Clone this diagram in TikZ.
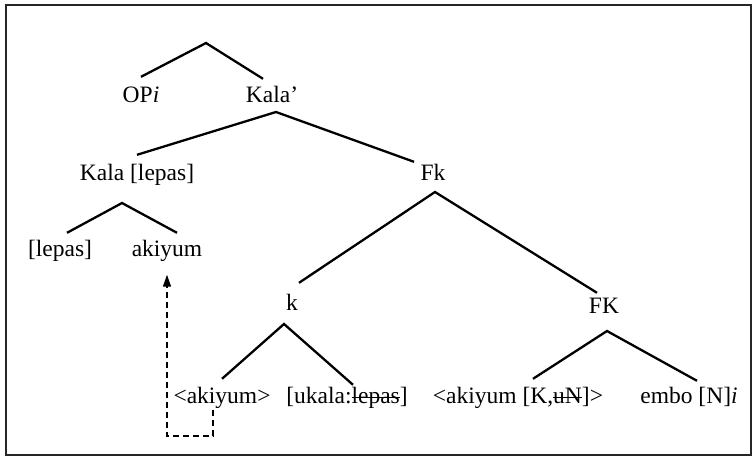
\documentclass[tikz,border=0pt]{standalone}
\usepackage{fontspec}
\setmainfont{Liberation Serif}
\usetikzlibrary{arrows.meta}

\newcommand\strikeword[1]{\setbox0\hbox{#1}\rlap{\raisebox{0.24em}{\rule{\wd0}{0.9pt}}}\box0}

\tikzset{
  lbl/.style={inner sep=0pt, text height=16pt, text depth=5pt, font=\fontsize{23.5}{28}\selectfont},
  branch/.style={line width=2.3pt},
  trace/.style={line width=1.4pt, dash pattern=on 6pt off 4pt},
  frame/.style={line width=2.8pt, draw=black!85}
}

\begin{document}
\begin{tikzpicture}[x=1pt, y=-1pt]
  \useasboundingbox (0,0) rectangle (756,459);
  \draw[frame] (6,5) rectangle (751,455);

  % labels
  \node[lbl] (opi) at (141,97) {OP\textit{i}};
  \node[lbl] (kalap) at (272,97) {Kala'};
  \node[lbl] (kl) at (137,175) {Kala [lepas]};
  \node[lbl] (fk) at (433,175) {Fk};
  \node[lbl] (lepas) at (60,251) {[lepas]};
  \node[lbl] (akiyum) at (167,251) {akiyum};
  \node[lbl] (k) at (292,305) {k};
  \node[lbl] (FK) at (604,308) {FK};
  \node[lbl] (ak1) at (222,398) {<akiyum>};
  \node[lbl] (uk) at (347,398) {[ukala:\strikeword{lepas}]};
  \node[lbl] (ak2) at (518,398) {<akiyum [K,\strikeword{uN}]>};
  \node[lbl] (embo) at (689,398) {embo [N]\textit{i}};

  % branching points
  \coordinate (a0) at (206,43);
  \coordinate (a1) at (276,112);
  \coordinate (a2) at (122,203);
  \coordinate (a3) at (435,192);
  \coordinate (a4) at (284,324);
  \coordinate (a5) at (607,331);
  \coordinate (turn) at (167,436);

  \draw[branch] ([yshift=9.5pt]opi.north) -- (a0) -- ([xshift=-9pt,yshift=7.5pt]kalap.north);
  \draw[branch] ([yshift=9.5pt]kl.north) -- (a1) -- ([xshift=-19pt,yshift=2.5pt]fk.north);
  \draw[branch] ([xshift=7pt,yshift=7.5pt]lepas.north) -- (a2) -- ([xshift=10pt,yshift=7.5pt]akiyum.north);
  \draw[branch] ([xshift=7pt,yshift=11.5pt]k.north) -- (a3) -- ([xshift=-7pt,yshift=4.5pt]FK.north);
  \draw[branch] ([yshift=8.5pt]ak1.north) -- (a4) -- ([xshift=6pt,yshift=2.5pt]uk.north);
  \draw[branch] ([xshift=15pt,yshift=8.5pt]ak2.north) -- (a5) -- ([xshift=8pt,yshift=6.5pt]embo.north);

  % movement
  \draw[trace, -{Triangle[length=12pt,width=8pt]}, shorten >=13pt]
    ([xshift=-9pt,yshift=-1.5pt]ak1.south) |- (turn) -- (akiyum.south);
\end{tikzpicture}
\end{document}
